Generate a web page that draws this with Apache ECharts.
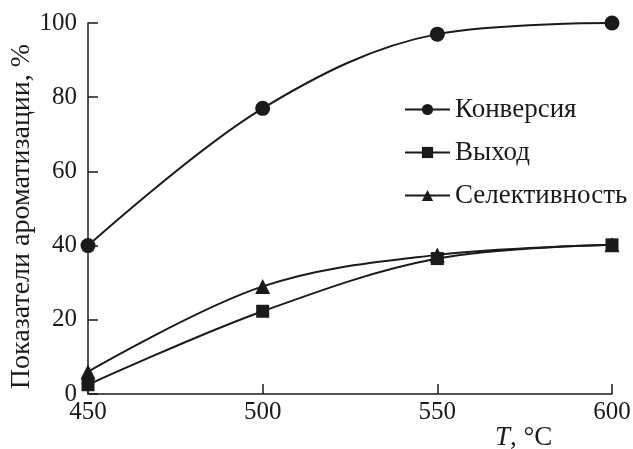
<!DOCTYPE html>
<html><head><meta charset="utf-8">
<script src="https://cdn.jsdelivr.net/npm/echarts@6/dist/echarts.min.js"></script>
<style>html,body{margin:0;padding:0;background:#fff}#c{width:633px;height:449px}</style>
</head><body><div id="c"></div>
<script>
const temps = [450, 500, 550, 600];
const conversion = [40, 77, 97, 100];
const yieldVals = [2.5, 22.3, 36.5, 40.2];
const selectivity = [6, 29, 37.5, 40.2];
const seriesNames = ['Конверсия', 'Выход', 'Селективность'];
const yTitle = 'Показатели ароматизации, %';

const F = 'Liberation Serif';
const C = '#1a1a1a';
const chart = echarts.init(document.getElementById('c'));
function mk(name, vals, sym, size) {
  return {
    name: name, type: 'line', smooth: 0.35,
    data: temps.map((t, i) => [t, vals[i]]),
    symbol: sym, symbolSize: size, showSymbol: true,
    lineStyle: {color: C, width: 2}, itemStyle: {color: C},
    z: 2
  };
}
chart.setOption({
  animation: false,
  backgroundColor: '#fff',
  grid: {left: 88, right: 21, top: 23, bottom: 55, containLabel: false, outerBoundsMode: 'none'},
  legend: {
    orient: 'vertical', left: 399, top: 91, itemGap: 16,
    itemWidth: 45, itemHeight: 14,
    textStyle: {fontFamily: F, fontSize: 27, color: C},
    data: seriesNames
  },
  xAxis: {
    type: 'value', min: 450, max: 600, interval: 50,
    axisLine: {lineStyle: {color: C, width: 1.5}},
    axisTick: {inside: true, length: 10, lineStyle: {color: C, width: 1.5}},
    axisLabel: {fontFamily: F, fontSize: 25, color: C, margin: 6},
    splitLine: {show: false}
  },
  yAxis: {
    type: 'value', min: 0, max: 100, interval: 20,
    name: yTitle, nameLocation: 'middle', nameGap: 52, nameMoveOverlap: false,
    nameTextStyle: {fontFamily: F, fontSize: 28, color: C, padding: [0, 0, 0, -16]},
    axisLine: {show: true, lineStyle: {color: C, width: 1.5}},
    axisTick: {show: true, inside: true, length: 10, lineStyle: {color: C, width: 1.5}},
    axisLabel: {fontFamily: F, fontSize: 25, color: C, margin: 11},
    splitLine: {show: false}
  },
  graphic: [{
    type: 'text', left: 495, top: 424,
    style: {
      text: '{i|T}, °C',
      rich: {i: {fontStyle: 'italic', fontFamily: F, fontSize: 27, fill: C}},
      fontFamily: F, fontSize: 27, fill: C
    }
  }],
  series: [
    mk(seriesNames[0], conversion, 'circle', 15),
    mk(seriesNames[1], yieldVals, 'rect', 13),
    mk(seriesNames[2], selectivity, 'triangle', 15)
  ]
});
</script></body></html>
